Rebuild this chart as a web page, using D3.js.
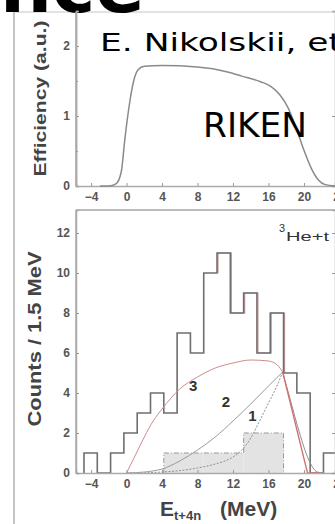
<!DOCTYPE html>
<html>
<head>
<meta charset="utf-8">
<script src="https://cdn.jsdelivr.net/npm/d3@7"></script>
<style>
  body { margin: 0; background: #fff; }
  svg { display: block; }
</style>
</head>
<body>
<div id="chart"></div>
<script>
var W = 335, H = 524;

// efficiency curve: energy (MeV) / efficiency (a.u.)
var effE = [-3, -2, -1.2, -0.6, -0.2, 0.3, 0.8, 1.3, 2, 4, 8, 11.4, 13, 15.1, 16.3, 17.3, 18.2, 19.2, 20, 20.8, 21.6, 22.4, 23.5];
var effV = [0, 0, 0.03, 0.2, 0.66, 1.15, 1.5, 1.66, 1.71, 1.72, 1.7, 1.63, 1.57, 1.49, 1.42, 1.3, 1.12, 0.8, 0.51, 0.26, 0.09, 0.02, 0];

// measured spectrum, 1.5 MeV bins
var binStart = -4.8, binWidth = 1.5;
var counts = [1, 0, 1, 2, 3, 4, 3, 7, 6, 10, 11, 8, 9, 6, 8, 5, 4, 0, 1];

// 3He+t shaded spectrum
var shadeLo = [4.2, 8.7, 13.2];
var shadeHi = [8.7, 13.2, 17.7];
var shadeV = [1, 1, 2];

// phase space curves 1, 2, 3
var c1E = [0, 2, 4, 6, 8, 10, 12, 13, 14, 15, 16, 17, 17.6];
var c1V = [0, 0.01, 0.05, 0.12, 0.25, 0.45, 0.8, 1.15, 1.75, 2.6, 3.5, 4.4, 5.05];
var c2E = [0, 2, 4, 6, 8, 10, 12, 14, 16, 17.6];
var c2V = [0, 0.05, 0.2, 0.6, 1.15, 1.8, 2.6, 3.45, 4.35, 5.05];
var c3E = [0, 1, 2, 3, 4, 6, 8, 10, 12, 14, 16, 17, 17.6];
var c3V = [0, 0.9, 1.8, 2.6, 3.2, 4.2, 4.8, 5.25, 5.5, 5.65, 5.6, 5.4, 5.05];
// common fall-off
var tailE = [17.6, 18.5, 19.5, 20.5, 21.5, 22.2];
var tailV = [5.05, 3.6, 2.0, 0.7, 0.05, 0];
var fitE = [17.6, 20.4, 21.9];
var fitV = [5.05, 0, 0];

var curveLabels = ["1", "2", "3"];
var labelE = [14.2, 11.2, 7.5];
var labelV = [2.6, 3.3, 4.1];

var xTicks = [-4, 0, 4, 8, 12, 16, 20, 24];
var effTicks = [0, 1, 2];
var effMinor = [0.5, 1.5];
var cntTicks = [0, 2, 4, 6, 8, 10, 12];

var svg = d3.select("#chart").append("svg")
    .attr("width", W)
    .attr("height", H);

// slide frame
svg.append("line").attr("x1", 14).attr("x2", 14).attr("y1", 12).attr("y2", H)
    .attr("stroke", "#c4c4c4").attr("stroke-width", 2);
svg.append("line").attr("x1", 14).attr("x2", W).attr("y1", 12).attr("y2", 12)
    .attr("stroke", "#d8d8d8").attr("stroke-width", 1.5);

// slide title remnant
svg.append("text")
    .attr("x", 0).attr("y", 12)
    .style("font-family", "DejaVu Sans")
    .style("font-weight", "bold")
    .style("font-size", "73px")
    .text("nce");

// ---- top panel: efficiency
var x1 = d3.scaleLinear().domain([-5.7, 23.5]).range([76, 335]);
var y1 = d3.scaleLinear().domain([0, 2.5]).range([186, 11]);

var gTop = svg.append("g");

gTop.append("line").attr("x1", 76).attr("x2", 76).attr("y1", 12).attr("y2", 186)
    .attr("stroke", "#aaa").attr("stroke-width", 1.5);

var xAx1 = gTop.append("g")
    .attr("transform", "translate(0,186)")
    .call(d3.axisBottom(x1).tickValues(xTicks).tickSize(-3).tickPadding(6).tickFormat(d3.format("d")));
var yAx1 = gTop.append("g")
    .attr("transform", "translate(76,0)")
    .call(d3.axisLeft(y1).tickValues(effTicks).tickSize(-3).tickPadding(6).tickFormat(d3.format("d")));
gTop.append("g")
    .attr("transform", "translate(76,0)")
    .call(d3.axisLeft(y1).tickValues(effMinor).tickSize(-2).tickFormat(""));
gTop.append("g")
    .attr("transform", "translate(335,0)")
    .call(d3.axisRight(y1).tickValues(effTicks).tickSize(-3).tickFormat(""));

gTop.append("path")
    .datum(d3.range(effE.length))
    .attr("fill", "none")
    .attr("stroke", "#8a8a8a")
    .attr("stroke-width", 1.5)
    .attr("d", d3.line()
      .x(function(i) { return x1(effE[i]); })
      .y(function(i) { return y1(effV[i]); })
      .curve(d3.curveMonotoneX));

gTop.append("text")
    .attr("transform", "translate(46," + y1(1.25) + ") rotate(-90)")
    .attr("text-anchor", "middle")
    .attr("textLength", 156)
    .attr("lengthAdjust", "spacingAndGlyphs")
    .style("font-family", "Liberation Sans, Arial")
    .style("font-weight", "bold")
    .style("font-size", "17px")
    .style("fill", "#444")
    .text("Efficiency (a.u.)");

// ---- bottom panel: counts
var x2 = d3.scaleLinear().domain([-5.7, 23.5]).range([76, 335]);
var y2 = d3.scaleLinear().domain([0, 13.15]).range([473, 210]);

var gBot = svg.append("g");

gBot.append("line").attr("x1", 76).attr("x2", 335).attr("y1", 210).attr("y2", 210)
    .attr("stroke", "#bbb").attr("stroke-width", 2);
gBot.append("line").attr("x1", 76).attr("x2", 76).attr("y1", 210).attr("y2", 473)
    .attr("stroke", "#aaa").attr("stroke-width", 1.5);

// shaded spectrum
gBot.selectAll("rect.shade")
    .data(shadeV)
    .enter().append("rect")
    .attr("class", "shade")
    .attr("x", function(d, i) { return x2(shadeLo[i]); })
    .attr("width", function(d, i) { return x2(shadeHi[i]) - x2(shadeLo[i]); })
    .attr("y", function(d) { return y2(d); })
    .attr("height", function(d) { return y2(0) - y2(d); })
    .attr("fill", "#e3e3e3");

var shadeLine = [];
shadeV.forEach(function(v, i) {
  shadeLine.push([shadeLo[i], v]);
  shadeLine.push([shadeHi[i], v]);
});
shadeLine.unshift([shadeLo[0], 0]);
shadeLine.push([shadeHi[shadeHi.length - 1], 0]);
gBot.append("path")
    .datum(shadeLine)
    .attr("fill", "none")
    .attr("stroke", "#999")
    .attr("stroke-width", 1)
    .attr("stroke-dasharray", "5,2,1,2")
    .attr("d", d3.line()
      .x(function(d) { return x2(d[0]); })
      .y(function(d) { return y2(d[1]); }));

// measured histogram as a step outline
var steps = [[binStart, 0]];
counts.forEach(function(c, i) {
  steps.push([binStart + i * binWidth, c]);
  steps.push([binStart + (i + 1) * binWidth, c]);
});
var stepLine = d3.line()
    .x(function(d) { return x2(d[0]); })
    .y(function(d) { return y2(d[1]); });

var clip = svg.append("defs").append("clipPath").attr("id", "clip")
  .append("rect").attr("x", 76).attr("y", 205).attr("width", 260).attr("height", 270);

var hist = gBot.append("g").attr("clip-path", "url(#clip)");

// faint red trace under part of the histogram (fit)
hist.append("path")
    .datum(steps.slice(20, 32))
    .attr("fill", "none")
    .attr("stroke", "#d19a9a")
    .attr("stroke-width", 1.2)
    .attr("transform", "translate(1,0)")
    .attr("d", stepLine);

hist.append("path")
    .datum(steps)
    .attr("fill", "none")
    .attr("stroke", "#6f6f6f")
    .attr("stroke-width", 1.6)
    .attr("d", stepLine);

function curvePath(E, V, color, dash) {
  hist.append("path")
      .datum(d3.range(E.length))
      .attr("fill", "none")
      .attr("stroke", color)
      .attr("stroke-width", 1)
      .attr("stroke-dasharray", dash)
      .attr("d", d3.line()
        .x(function(i) { return x2(E[i]); })
        .y(function(i) { return y2(V[i]); })
        .curve(d3.curveMonotoneX));
}
curvePath(c1E, c1V, "#8f8f8f", "2,1.5");
curvePath(c2E, c2V, "#9a9a9a", null);
curvePath(c3E, c3V, "#c98e8e", null);
curvePath(tailE, tailV, "#8f8f8f", null);
hist.append("path")
    .datum(d3.range(fitE.length))
    .attr("fill", "none")
    .attr("stroke", "#cf6f6f")
    .attr("stroke-width", 1.3)
    .attr("d", d3.line()
      .x(function(i) { return x2(fitE[i]); })
      .y(function(i) { return y2(fitV[i]); }));

gBot.selectAll("text.clab")
    .data(curveLabels)
    .enter().append("text")
    .attr("class", "clab")
    .attr("x", function(d, i) { return x2(labelE[i]); })
    .attr("y", function(d, i) { return y2(labelV[i]); })
    .attr("text-anchor", "middle")
    .style("font-family", "Liberation Sans, Arial")
    .style("font-weight", "bold")
    .style("font-size", "15px")
    .style("fill", "#333")
    .text(function(d) { return d; });

var xAx2 = gBot.append("g")
    .attr("transform", "translate(0,473)")
    .call(d3.axisBottom(x2).tickValues(xTicks).tickSize(-3).tickPadding(6).tickFormat(d3.format("d")));
var yAx2 = gBot.append("g")
    .attr("transform", "translate(76,0)")
    .call(d3.axisLeft(y2).tickValues(cntTicks).tickSize(-3).tickPadding(6));
gBot.append("g")
    .attr("transform", "translate(335,0)")
    .call(d3.axisRight(y2).tickValues(cntTicks).tickSize(-3).tickFormat(""));

gBot.append("text")
    .attr("transform", "translate(41," + y2(6.7) + ") rotate(-90)")
    .attr("text-anchor", "middle")
    .attr("textLength", 175)
    .attr("lengthAdjust", "spacingAndGlyphs")
    .style("font-family", "Liberation Sans, Arial")
    .style("font-weight", "bold")
    .style("font-size", "19px")
    .style("fill", "#444")
    .text("Counts / 1.5 MeV");

var xl = gBot.append("text")
    .attr("x", 160).attr("y", 516)
    .style("font-family", "Liberation Sans, Arial")
    .style("font-weight", "bold")
    .style("font-size", "21px")
    .style("fill", "#444");
xl.append("tspan").text("E");
xl.append("tspan").attr("dy", 4).style("font-size", "13px").text("t+4n");
xl.append("tspan").attr("dy", -4).attr("dx", 19).text("(MeV)");

gBot.append("text")
    .attr("x", 279).attr("y", 232)
    .style("font-family", "Liberation Sans, Arial")
    .style("font-size", "11px")
    .style("fill", "#333")
    .text("3");
gBot.append("text")
    .attr("x", 286).attr("y", 241)
    .attr("textLength", 43)
    .attr("lengthAdjust", "spacingAndGlyphs")
    .style("font-family", "Liberation Sans, Arial")
    .style("font-size", "12px")
    .style("fill", "#333")
    .text("He+t");

// axis styling
svg.selectAll(".domain").attr("stroke", "#aaa").attr("stroke-width", 1.5);
svg.selectAll(".tick line").attr("stroke", "#999");
svg.selectAll(".tick text")
    .style("font-family", "Liberation Sans, Arial")
    .style("font-weight", "bold")
    .style("font-size", "12px")
    .style("fill", "#555");

// big annotations
svg.append("text")
    .attr("x", 100).attr("y", 51)
    .attr("textLength", 242)
    .attr("lengthAdjust", "spacingAndGlyphs")
    .style("font-family", "DejaVu Sans")
    .style("font-size", "25px")
    .text("E. Nikolskii, et");

svg.append("text")
    .attr("x", 203).attr("y", 137)
    .attr("textLength", 104)
    .attr("lengthAdjust", "spacingAndGlyphs")
    .style("font-family", "DejaVu Sans")
    .style("font-size", "34px")
    .text("RIKEN");
</script>
</body>
</html>
